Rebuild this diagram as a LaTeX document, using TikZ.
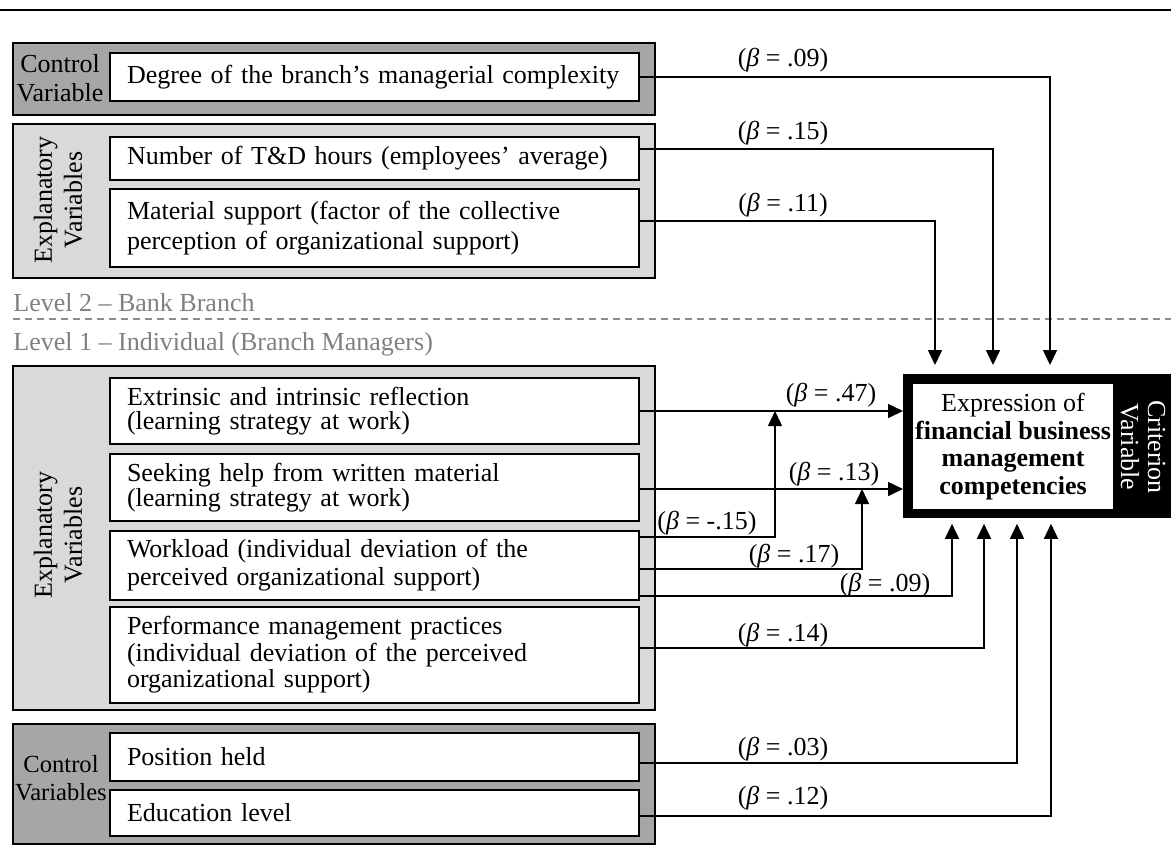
\documentclass[tikz,border=0pt]{standalone}
\usepackage{fontspec}
\setmainfont{Liberation Serif}
\usetikzlibrary{arrows.meta,calc}
\definecolor{dgray}{HTML}{A6A6A6}
\definecolor{lgray}{HTML}{D9D9D9}
\definecolor{lvgray}{HTML}{808080}
\definecolor{dashgray}{HTML}{8C8C8C}
\begin{document}
\begin{tikzpicture}[x=0.5pt,y=-0.5pt,
  every node/.style={inner sep=0pt, font=\fontsize{13}{15}\selectfont},
  grpdark/.style={draw=black, line width=1pt, fill=dgray, anchor=north west, minimum width=321pt},
  grplight/.style={draw=black, line width=1pt, fill=lgray, anchor=north west, minimum width=321pt},
  varbox/.style={draw=black, line width=1pt, fill=white, anchor=north west,
     text width=247.5pt, inner xsep=8.5pt, inner ysep=0pt, align=left},
  conn/.style={line width=0.75pt, -{Triangle[length=7.5pt,width=7pt]}},
  beta/.style={inner sep=0pt},
  lvl/.style={text=lvgray, anchor=base west}]
\useasboundingbox (0,0) rectangle (1171,864);
% top rule
\draw[line width=0.6pt] (0,10) -- (1171,10);

% ---------- Level 2 groups ----------
\node[grpdark, minimum height=36pt] (g1) at (12,42) {};
\node[grplight, minimum height=77pt] (g2) at (12,123) {};
\node[align=center, font=\fontsize{13}{14.5}\selectfont] (cv1) at (60,78) {Control\\Variable};
\node[rotate=90, align=center, font=\fontsize{13}{15}\selectfont] (ev1) at (58,200) {Explanatory\\Variables};

\node[varbox, minimum height=24pt] (deg) at (109,52) {Degree of the branch’s managerial complexity};
\node[varbox, minimum height=21.5pt] (td) at (109,136) {Number of T\&D hours (employees’ average)};
\node[varbox, minimum height=39pt, font=\fontsize{13}{15}\selectfont] (mat) at (109,188) {Material support (factor of the collective\\perception of organizational support)};

% ---------- Levels ----------
\node[lvl] (lv2) at (13,311) {Level 2 – Bank Branch};
\draw[dashgray, line width=0.7pt, dash pattern=on 3.5pt off 2.5pt] (13,319) -- (1171,319);
\node[lvl] (lv1) at (13,350) {Level 1 – Individual (Branch Managers)};

% ---------- Level 1 groups ----------
\node[grplight, minimum height=172pt] (g3) at (12,365) {};
\node[grpdark, minimum height=60pt] (g4) at (12,723) {};
\node[rotate=90, align=center, font=\fontsize{13}{15}\selectfont] (ev2) at (58,535) {Explanatory\\Variables};
\node[align=center, font=\fontsize{12.3}{14}\selectfont] (cv2) at (61,778) {Control\\Variables};

\node[varbox, minimum height=33pt, font=\fontsize{13}{12}\selectfont] (ext) at (109,377) {Extrinsic and intrinsic reflection\\(learning strategy at work)};
\node[varbox, minimum height=33.5pt, font=\fontsize{13}{11.5}\selectfont] (seek) at (109,453) {Seeking help from written material\\(learning strategy at work)};
\node[varbox, minimum height=34.5pt, font=\fontsize{13}{14}\selectfont] (work) at (109,530) {Workload (individual deviation of the\\perceived organizational support)};
\node[varbox, minimum height=48pt, font=\fontsize{13}{13.25}\selectfont] (perf) at (109,606) {Performance management practices\\(individual deviation of the perceived\\organizational support)};
\node[varbox, minimum height=24pt] (pos) at (109,732) {Position held};
\node[varbox, minimum height=23pt] (edu) at (109,789) {Education level};

% ---------- Criterion ----------
\node[fill=black, anchor=north west, minimum width=134pt, minimum height=72pt] (crit) at (903,374) {};
\node[fill=white, minimum width=100pt, minimum height=62.5pt, align=center,
      font=\fontsize{13}{13.75}\selectfont] (critin) at (1013,446.5)
      {Expression of\\\textbf{financial business}\\\textbf{management}\\\textbf{competencies}};
\node[rotate=-90, align=center, text=white, font=\fontsize{13}{13.5}\selectfont] (critlab) at (1143,447) {Criterion\\Variable};

% ---------- connectors ----------
\coordinate (j1) at (775,411);
\coordinate (j2) at (862,489);
\draw[conn, shorten >=4.5pt] (deg.east |- 0,77) -| (crit.north -| 1050,0);
\draw[conn, shorten >=4.5pt] (td.east |- 0,149) -| (crit.north -| 993,0);
\draw[conn, shorten >=4.5pt] (mat.east |- 0,221) -| (crit.north -| 935,0);
\draw[conn] (ext.east |- 0,411) -- (crit.west |- 0,411);
\draw[conn] (seek.east |- 0,489) -- (crit.west |- 0,489);
\draw[conn] (work.east |- 0,537) -| (j1);
\draw[conn] (work.east |- 0,569) -| (j2);
\draw[conn, shorten >=2.5pt] (work.east |- 0,596) -| (crit.south -| 952,0);
\draw[conn, shorten >=2.5pt] (perf.east |- 0,648) -| (crit.south -| 984,0);
\draw[conn, shorten >=2.5pt] (pos.east |- 0,763) -| (crit.south -| 1017,0);
\draw[conn, shorten >=2.5pt] (edu.east |- 0,816) -| (crit.south -| 1051,0);

% ---------- labels ----------
\node[beta] (b1) at (783,60) {(\textit{β} = .09)};
\node[beta] (b2) at (783,133) {(\textit{β} = .15)};
\node[beta] (b3) at (783,205) {(\textit{β} = .11)};
\node[beta] (b4) at (831,395) {(\textit{β} = .47)};
\node[beta] (b5) at (834,474) {(\textit{β} = .13)};
\node[beta] (b6) at (707,523) {(\textit{β} = -.15)};
\node[beta] (b7) at (794,556) {(\textit{β} = .17)};
\node[beta] (b8) at (885,585) {(\textit{β} = .09)};
\node[beta] (b9) at (783,635) {(\textit{β} = .14)};
\node[beta] (b10) at (783,749) {(\textit{β} = .03)};
\node[beta] (b11) at (783,798) {(\textit{β} = .12)};
\end{tikzpicture}
\end{document}
